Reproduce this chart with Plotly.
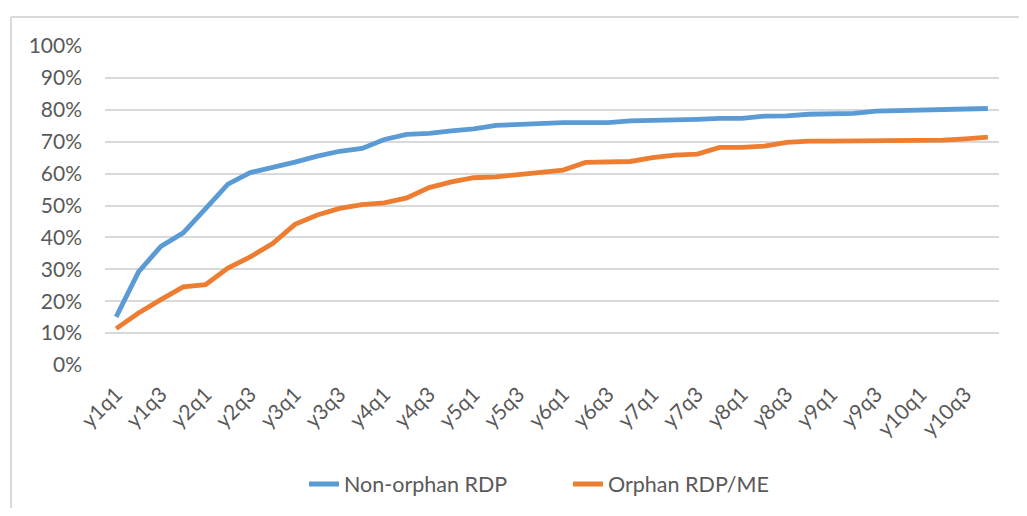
import plotly.graph_objects as go

quarters = [f"y{y}q{q}" for y in range(1, 11) for q in range(1, 5)]

non_orphan = [15.1, 29.2, 37.2, 41.4, 49.0, 56.7, 60.3, 61.8, 63.6, 65.5,
              67.0, 67.9, 70.7, 72.3, 72.6, 73.4, 74.0, 75.1, 75.4, 75.9,
              76.0, 76.0, 76.0, 76.5, 76.6, 76.6, 77.0, 77.3, 77.3, 78.0,
              78.1, 78.6, 78.9, 78.9, 79.6, 79.7, 80.0, 80.0, 80.1, 80.4]
orphan = [11.4, 16.3, 20.5, 24.5, 25.2, 30.4, 33.9, 38.1, 44.1, 47.0,
          49.1, 50.3, 50.8, 52.4, 55.6, 57.4, 58.7, 59.0, 59.7, 60.3,
          61.1, 63.5, 63.5, 63.8, 65.0, 65.8, 66.1, 68.2, 68.2, 68.6,
          69.8, 70.2, 70.2, 70.2, 70.2, 70.2, 70.5, 70.5, 70.9, 71.4]

y_ticks = list(range(0, 101, 10))
y_tick_labels = [f"{v}%" for v in y_ticks]
x_ticks = quarters[::2]

FONT = "Lato"
GRAY = "#595959"

# page body has an 8px default margin; compensate
OFF = 8
PL, PR, PT, PB = 105, 999, 46, 365  # plot area in window pixels
W, H = 1027 - 2 * OFF, 516 - 2 * OFF
PW, PH = PR - PL, PB - PT


def px_x(x):
    return (x - PL) / PW


def px_y(y):
    return (PB - y) / PH


fig = go.Figure()
fig.add_trace(go.Scatter(x=quarters, y=non_orphan, mode="lines", name="Non-orphan RDP",
                         line=dict(color="#5b9bd5", width=4.8)))
fig.add_trace(go.Scatter(x=quarters, y=orphan, mode="lines", name="Orphan RDP/ME",
                         line=dict(color="#ed7d31", width=4.8)))

fig.update_layout(
    width=W, height=H, autosize=False,
    margin=dict(l=PL - OFF, r=W - (PR - OFF), t=PT - OFF, b=H - (PB - OFF), autoexpand=False),
    paper_bgcolor="white", plot_bgcolor="white",
    font=dict(family=FONT, color=GRAY, size=21),
    showlegend=True,
    legend=dict(orientation="h", x=px_x(568), xanchor="center", y=px_y(484), yanchor="middle",
                font=dict(family=FONT, size=21.5, color=GRAY),
                entrywidth=219, entrywidthmode="pixels",
                tracegroupgap=0, bgcolor="rgba(0,0,0,0)"),
    xaxis=dict(type="category", categoryorder="array", categoryarray=quarters,
               range=[-0.5, len(quarters) - 0.5], tickmode="array", tickvals=x_ticks,
               ticktext=x_ticks, tickangle=-45, showgrid=False, zeroline=False,
               showline=False, ticks="", ticklabelstandoff=12,
               tickfont=dict(family=FONT, size=21, color=GRAY)),
    yaxis=dict(range=[0, 100], tickmode="array", tickvals=y_ticks, ticktext=y_tick_labels,
               showgrid=True, gridcolor="#d9d9d9", gridwidth=2, zeroline=False,
               showline=False, ticks="", ticklabelstandoff=22,
               tickfont=dict(family=FONT, size=21, color=GRAY)),
    shapes=[
        dict(type="line", xref="paper", yref="paper",
             x0=px_x(11), x1=px_x(1040), y0=px_y(17), y1=px_y(17),
             line=dict(color="#d9d9d9", width=2)),
        dict(type="line", xref="paper", yref="paper",
             x0=px_x(11), x1=px_x(11), y0=px_y(17), y1=px_y(530),
             line=dict(color="#d9d9d9", width=2)),
    ],
)

fig.write_html("out.html")
